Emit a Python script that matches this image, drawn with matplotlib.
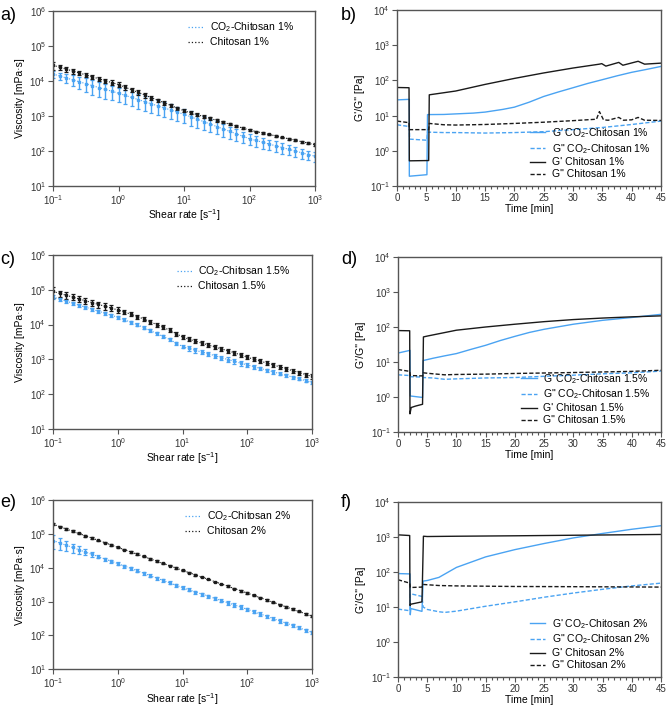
import matplotlib
matplotlib.use("Agg")
import matplotlib.pyplot as plt
from matplotlib.lines import Line2D
from matplotlib.ticker import LogLocator, MultipleLocator, NullLocator

plt.rcParams['font.family'] = ['Liberation Sans', 'DejaVu Sans']
plt.rcParams['mathtext.fontset'] = 'custom'
plt.rcParams['mathtext.rm'] = 'Liberation Sans'
plt.rcParams['mathtext.it'] = 'Liberation Sans:italic'
plt.rcParams['font.size'] = 7

BLUE = '#4aa3f2'
BLACK = '#1a1a1a'
SPINE = '#555555'

# ---- viscosity data (shear rate sweep) ----
rate = [0.1, 0.126, 0.158, 0.2, 0.251, 0.316, 0.398, 0.501, 0.631, 0.794,
        1, 1.26, 1.58, 2, 2.51, 3.16, 3.98, 5.01, 6.31, 7.94,
        10, 12.6, 15.8, 20, 25.1, 31.6, 39.8, 50.1, 63.1, 79.4,
        100, 126, 158, 200, 251, 316, 398, 501, 631, 794, 1000]

co2_1 = [15800, 14000, 12300, 10800, 9550, 8400, 7400, 6500, 5750, 5100,
         4470, 3890, 3390, 2950, 2570, 2240, 1950, 1700, 1480, 1290,
         1120, 955, 813, 692, 589, 501, 427, 363, 309, 263,
         224, 200, 178, 158, 141, 126, 112, 100, 89, 79, 71]
co2_1_err = [3200, 3500, 3700, 3800, 3800, 3500, 3300, 2900, 2600, 2300,
             2000, 1750, 1500, 1330, 1160, 1000, 880, 770, 670, 580,
             500, 420, 350, 290, 240, 200, 167, 138, 114, 95,
             78, 70, 61, 54, 47, 42, 36, 32, 28, 24, 21]
chi_1 = [28200, 24800, 21900, 19300, 17000, 15000, 13200, 11600, 10200, 9000,
         7940, 6680, 5620, 4730, 3980, 3350, 2820, 2370, 2000, 1680,
         1410, 1240, 1100, 966, 851, 750, 661, 582, 513, 452,
         398, 361, 328, 298, 270, 245, 223, 202, 184, 167, 151]
chi_1_err = [7000, 3700, 3300, 2900, 2550, 2250, 2000, 1750, 1530, 1350,
             1190, 1000, 840, 710, 600, 500, 280, 240, 200, 170,
             140, 124, 110, 97, 85, 75, 40, 35, 31, 27,
             24, 22, 20, 18, 16, 15, 13, 12, 11, 10, 15]

co2_15 = [61700, 54000, 47200, 41300, 36100, 31600, 27700, 24200, 21200, 18500,
          16200, 13800, 11700, 9890, 8220, 6760, 5560, 4570, 3720, 2950,
          2340, 2070, 1820, 1620, 1450, 1270, 1120, 989, 881, 776,
          692, 617, 550, 490, 437, 389, 347, 309, 275, 245, 219]
co2_15_err = [9000, 5400, 4700, 4100, 3600, 3200, 2800, 2400, 2100, 1850,
              1620, 1400, 1200, 1000, 820, 680, 560, 460, 370, 300,
              280, 290, 270, 240, 220, 190, 170, 150, 130, 116,
              100, 80, 66, 55, 48, 40, 35, 31, 27, 24, 20]
chi_15 = [89100, 78900, 69800, 61800, 54700, 48400, 42900, 37900, 33600, 29700,
          26300, 22900, 19950, 17000, 14500, 12000, 10000, 8320, 6920, 5500,
          4370, 3800, 3310, 2920, 2570, 2260, 2000, 1760, 1550, 1330,
          1150, 1010, 891, 785, 692, 610, 537, 473, 417, 367, 324]
chi_15_err = [31000, 15800, 14000, 12400, 10900, 9700, 8600, 7600, 6700, 5900,
              5300, 3000, 2600, 2200, 1900, 1560, 1300, 1080, 900, 720,
              570, 490, 430, 380, 330, 290, 260, 230, 200, 170,
              150, 130, 116, 102, 90, 79, 70, 61, 54, 48, 50]

co2_2 = [63100, 54000, 46100, 39400, 33700, 28800, 24700, 21100, 18000, 15400,
         13200, 11200, 9510, 8070, 6850, 5820, 4940, 4200, 3560, 3030,
         2570, 2220, 1910, 1650, 1430, 1230, 1060, 916, 791, 682,
         589, 504, 431, 368, 315, 269, 230, 197, 168, 144, 123]
co2_2_err = [28000, 21600, 16100, 11800, 8400, 5800, 3700, 2500, 1800, 1540,
             1320, 1120, 950, 810, 690, 580, 490, 420, 360, 300,
             260, 220, 190, 165, 143, 123, 120, 110, 95, 82,
             70, 60, 52, 44, 38, 30, 25, 20, 17, 14, 12]
chi_2 = [190500, 163000, 139000, 119000, 101800, 87100, 74500, 63700, 54500, 46600,
         39800, 34000, 29100, 24900, 21300, 18200, 15600, 13300, 11400, 9730,
         8320, 7130, 6110, 5240, 4490, 3850, 3300, 2830, 2420, 2070,
         1780, 1520, 1300, 1110, 951, 813, 695, 594, 508, 434, 372]
chi_2_err = [15000, 8000, 7000, 6000, 5000, 4400, 3700, 3200, 2700, 2300,
             2000, 1700, 1450, 1250, 1060, 910, 780, 660, 570, 490,
             420, 360, 300, 0, 0, 0, 0, 140, 120, 100,
             90, 76, 65, 56, 48, 41, 35, 30, 25, 22, 19]

# ---- time sweep data (G' and G'') ----
b_t_gp_co2 = [0, 2.1, 2.1, 5.1, 5.2, 8, 10, 13, 15, 18, 20, 22.5, 25, 27.5, 30, 32.5, 35, 37.5, 40, 42.5, 45]
b_gp_co2 = [28, 29, 0.19, 0.21, 10.7, 10.8, 11.2, 11.8, 12.6, 15, 17.4, 24, 35, 47, 62, 82, 105, 135, 170, 205, 250]
b_t_gpp_co2 = [0, 2.1, 2.15, 5.1, 5.2, 8, 10, 15, 20, 25, 30, 35, 40, 45]
b_gpp_co2 = [5.5, 4.9, 2.15, 2.0, 3.4, 3.3, 3.3, 3.2, 3.3, 3.5, 4.0, 4.6, 5.6, 7.0]
b_t_gp_chi = [0, 2.05, 2.1, 5.4, 5.5, 10, 15, 20, 25, 30, 34.5, 34.9, 35.6, 37.8, 38.5, 41.1, 42.2, 45]
b_gp_chi = [63, 62, 0.52, 0.53, 39, 50, 77, 114, 163, 225, 290, 300, 255, 325, 270, 350, 290, 310]
b_t_gpp_chi = [0, 2.05, 2.1, 5.4, 5.5, 8, 10, 15, 20, 25, 30, 34, 34.5, 35.2, 36, 37.8, 38.6, 40, 41.1, 42.2, 45]
b_gpp_chi = [7.0, 6.3, 4.0, 4.0, 6.0, 5.5, 5.4, 5.6, 6.0, 6.5, 7.2, 7.9, 13, 7.6, 7.4, 8.9, 7.4, 7.6, 8.9, 7.4, 7.3]

d_t_gp_co2 = [0, 2.05, 2.1, 4.2, 4.3, 6, 8, 10, 12.5, 15, 17.5, 20, 22.5, 25, 30, 35, 40, 45]
d_gp_co2 = [18, 21.5, 1.07, 0.97, 11, 12.8, 15, 17.4, 23, 30, 41, 54, 70, 86, 120, 155, 187, 230]
d_t_gpp_co2 = [0, 2.05, 2.1, 4.2, 4.3, 6, 8, 10, 15, 20, 25, 30, 35, 40, 45]
d_gpp_co2 = [4.3, 4.1, 3.8, 3.7, 3.6, 3.5, 3.2, 3.3, 3.5, 3.6, 3.9, 4.2, 4.6, 4.9, 5.5]
d_t_gp_chi = [0, 2.0, 2.05, 2.25, 3, 4.2, 4.35, 5, 10, 15, 20, 25, 30, 35, 40, 45]
d_gp_chi = [79, 78, 0.33, 0.5, 0.55, 0.62, 52, 55, 81, 100, 120, 142, 163, 180, 195, 208]
d_t_gpp_chi = [0, 2.0, 2.1, 4.2, 4.35, 6, 8, 10, 15, 20, 30, 40, 45]
d_gpp_chi = [6.1, 5.4, 4.1, 4.0, 4.9, 4.6, 4.3, 4.4, 4.5, 4.7, 5.0, 5.4, 5.8]

f_t_gp_co2 = [0, 2.05, 2.1, 2.2, 4.1, 4.3, 5, 7, 10, 15, 20, 25, 30, 35, 40, 45]
f_gp_co2 = [90, 88, 6, 9, 7.5, 55, 57, 70, 135, 270, 435, 650, 940, 1260, 1660, 2100]
f_t_gpp_co2 = [0, 2.05, 2.1, 4.1, 4.3, 5, 7, 8, 10, 15, 20, 25, 30, 35, 40, 45]
f_gpp_co2 = [8.7, 7.8, 24, 20, 10, 8.5, 7.3, 7.0, 7.6, 10.5, 14, 19, 25, 32, 40, 48]
f_t_gp_chi = [0, 2.0, 2.05, 2.2, 4.1, 4.35, 5, 10, 20, 30, 45]
f_gp_chi = [1150, 1100, 11, 12, 14, 1050, 1030, 1050, 1080, 1120, 1180]
f_t_gpp_chi = [0, 2.0, 2.1, 4.1, 4.3, 7, 10, 20, 30, 45]
f_gpp_chi = [60, 48, 36, 37, 44, 41, 40, 38.5, 38, 37]


def style_axes(ax):
    for s in ax.spines.values():
        s.set_color(SPINE)
        s.set_linewidth(1.0)
    ax.tick_params(which='both', direction='out', colors=SPINE, labelcolor='#333333',
                   labelsize=7, width=0.8, pad=1.5)
    ax.tick_params(which='major', length=3.5)
    ax.tick_params(which='minor', length=2)


def viscosity_panel(ax, co2, co2_err, chi, chi_err, conc):
    for y, e, c in [(co2, co2_err, BLUE), (chi, chi_err, BLACK)]:
        ax.errorbar(rate, y, yerr=e, fmt='s', ms=1.6, color=c, ls=(0, (1, 1.5)),
                    lw=0.8, elinewidth=1.0, capsize=1.3, capthick=0.9)
    ax.set_xscale('log')
    ax.set_yscale('log')
    ax.set_xlim(0.1, 1000)
    ax.set_ylim(10, 1e6)
    ax.xaxis.set_major_locator(LogLocator(base=10, numticks=10))
    ax.yaxis.set_major_locator(LogLocator(base=10, numticks=10))
    ax.xaxis.set_minor_locator(NullLocator())
    ax.yaxis.set_minor_locator(NullLocator())
    ax.set_xlabel('Shear rate [s$^{-1}$]', fontsize=7.5, labelpad=0.5)
    ax.set_ylabel('Viscosity [mPa·s]', fontsize=7.5, labelpad=3)
    handles = [Line2D([], [], color=BLUE, ls=':', lw=0.9),
               Line2D([], [], color=BLACK, ls=':', lw=0.9)]
    ax.legend(handles, ['CO$_2$-Chitosan ' + conc, 'Chitosan ' + conc],
              loc='upper right', bbox_to_anchor=(0.955, 1.0), frameon=False,
              fontsize=7.5, handlelength=1.5, handletextpad=0.6,
              labelspacing=0.3, borderaxespad=0.5)
    style_axes(ax)


def modulus_panel(ax, d, conc):
    ax.plot(d[0], d[1], color=BLUE, lw=1.0, label="G' CO$_2$-Chitosan " + conc)
    ax.plot(d[2], d[3], color=BLUE, lw=1.0, ls=(0, (3, 1.5)), label='G" CO$_2$-Chitosan ' + conc)
    ax.plot(d[4], d[5], color=BLACK, lw=1.0, label="G' Chitosan " + conc)
    ax.plot(d[6], d[7], color=BLACK, lw=1.0, ls=(0, (3, 1.5)), label='G" Chitosan ' + conc)
    ax.set_yscale('log')
    ax.set_xlim(0, 45)
    ax.set_ylim(0.1, 1e4)
    ax.xaxis.set_major_locator(MultipleLocator(5))
    ax.xaxis.set_minor_locator(MultipleLocator(1))
    ax.yaxis.set_major_locator(LogLocator(base=10, numticks=10))
    ax.yaxis.set_minor_locator(NullLocator())
    ax.set_xlabel('Time [min]', fontsize=7.5, labelpad=1)
    ax.set_ylabel('G\'/G" [Pa]', fontsize=7.5, labelpad=3)
    ax.legend(loc='lower right', bbox_to_anchor=(0.985, 0.0), frameon=False,
              fontsize=7.5, handlelength=1.5, handletextpad=0.6,
              labelspacing=0.18, borderaxespad=0.25)
    style_axes(ax)


fig = plt.figure(figsize=(6.66, 7.06), dpi=100)

ax_a = fig.add_axes([0.0796, 0.7365, 0.3934, 0.2479])
ax_b = fig.add_axes([0.5961, 0.7365, 0.3964, 0.2493])
ax_c = fig.add_axes([0.0796, 0.3924, 0.3889, 0.2465])
ax_d = fig.add_axes([0.5976, 0.3881, 0.3949, 0.2479])
ax_e = fig.add_axes([0.0796, 0.0520, 0.3889, 0.2400])
ax_f = fig.add_axes([0.5976, 0.0411, 0.3949, 0.2479])

viscosity_panel(ax_a, co2_1, co2_1_err, chi_1, chi_1_err, '1%')
viscosity_panel(ax_c, co2_15, co2_15_err, chi_15, chi_15_err, '1.5%')
viscosity_panel(ax_e, co2_2, co2_2_err, chi_2, chi_2_err, '2%')

modulus_panel(ax_b, [b_t_gp_co2, b_gp_co2, b_t_gpp_co2, b_gpp_co2,
                     b_t_gp_chi, b_gp_chi, b_t_gpp_chi, b_gpp_chi], '1%')
modulus_panel(ax_d, [d_t_gp_co2, d_gp_co2, d_t_gpp_co2, d_gpp_co2,
                     d_t_gp_chi, d_gp_chi, d_t_gpp_chi, d_gpp_chi], '1.5%')
modulus_panel(ax_f, [f_t_gp_co2, f_gp_co2, f_t_gpp_co2, f_gpp_co2,
                     f_t_gp_chi, f_gp_chi, f_t_gpp_chi, f_gpp_chi], '2%')

# panel letters
for lbl, x, y in [('a)', 0.0, 0.99), ('b)', 0.512, 0.99),
                  ('c)', 0.0, 0.645), ('d)', 0.512, 0.645),
                  ('e)', 0.0, 0.30), ('f)', 0.512, 0.30)]:
    fig.text(x, y, lbl, fontsize=13, va='top', ha='left')

fig.savefig('out.png', dpi=100)
